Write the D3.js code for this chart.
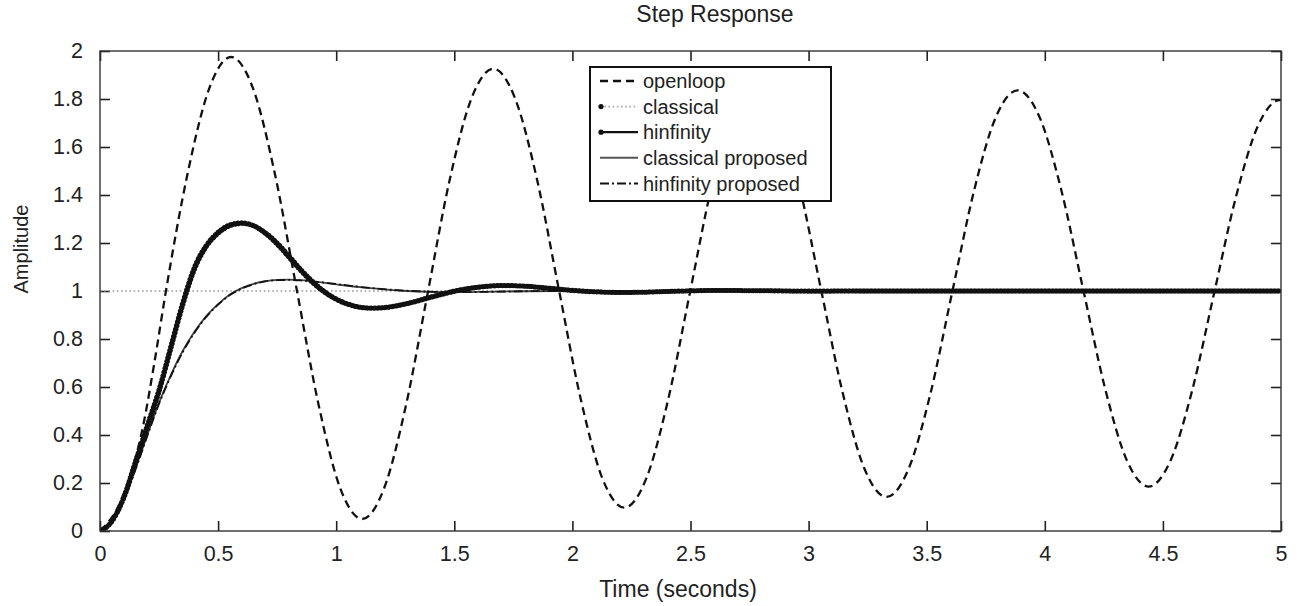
<!DOCTYPE html>
<html>
<head>
<meta charset="utf-8">
<script src="https://cdn.jsdelivr.net/npm/d3@7"></script>
<style>
  body { margin: 0; background: #fff; }
  text { font-family: "Liberation Sans", Arial, sans-serif; fill: #222; }
</style>
</head>
<body>
<div class="chart"></div>
<script>
// openloop step response
const tOpen = [0, 0.09, 0.185, 0.23, 0.2775, 0.37, 0.4625, 0.555, 0.6475, 0.74, 0.8325, 0.925, 1.0175, 1.11,
  1.2025, 1.295, 1.3875, 1.48, 1.5725, 1.665, 1.7575, 1.85, 1.9425, 2.035, 2.1275, 2.22, 2.3125, 2.405, 2.4975,
  2.59, 2.6825, 2.775, 2.8675, 2.96, 3.0525, 3.145, 3.2375, 3.33, 3.4225, 3.515, 3.6075, 3.7, 3.7925, 3.885,
  3.9775, 4.07, 4.1625, 4.255, 4.3475, 4.44, 4.5325, 4.625, 4.7175, 4.81, 4.9025, 4.995, 5];
const yOpen = [0, 0.13, 0.45, 0.70, 0.99, 1.485, 1.844, 1.975, 1.845, 1.49, 1.008, 0.528, 0.177, 0.05,
  0.177, 0.522, 0.992, 1.461, 1.802, 1.926, 1.802, 1.466, 1.007, 0.551, 0.218, 0.097, 0.218, 0.546, 0.993,
  1.438, 1.762, 1.88, 1.762, 1.442, 1.007, 0.573, 0.257, 0.142, 0.257, 0.569, 0.993, 1.416, 1.724, 1.836,
  1.725, 1.42, 1.007, 0.595, 0.294, 0.185, 0.294, 0.59, 0.994, 1.395, 1.688, 1.795, 1.795];

// classical / hinfinity controllers
const tCtrl = [0, 0.05, 0.1, 0.15, 0.2, 0.25, 0.3, 0.35, 0.4, 0.45, 0.5, 0.55, 0.6, 0.65, 0.7, 0.75, 0.8, 0.85,
  0.9, 0.95, 1.0, 1.05, 1.1, 1.15, 1.2, 1.3, 1.4, 1.5, 1.6, 1.7, 1.8, 1.9, 2.0, 2.1, 2.2, 2.3, 2.4, 2.5, 2.6,
  2.8, 3.0, 3.2, 3.4, 3.6, 3.8, 4.0, 4.5, 5.0];
const yClassical = [0, 0.04, 0.14, 0.29, 0.44, 0.59, 0.77, 0.95, 1.10, 1.19, 1.245, 1.276, 1.284, 1.272, 1.24,
  1.195, 1.14, 1.085, 1.035, 0.995, 0.965, 0.944, 0.932, 0.928, 0.93, 0.948, 0.975, 1.0, 1.016, 1.023, 1.02,
  1.011, 1.002, 0.996, 0.994, 0.995, 0.998, 1.001, 1.002, 1.001, 0.999, 1, 1, 1, 1, 1, 1, 1];
const yHinf = [0, 0.04, 0.135, 0.28, 0.43, 0.58, 0.76, 0.94, 1.09, 1.185, 1.24, 1.272, 1.281, 1.272, 1.243,
  1.2, 1.146, 1.09, 1.04, 0.998, 0.967, 0.946, 0.933, 0.929, 0.931, 0.947, 0.973, 0.998, 1.015, 1.022, 1.02,
  1.012, 1.003, 0.997, 0.994, 0.995, 0.998, 1.0, 1.002, 1.001, 1, 1, 1, 1, 1, 1, 1, 1];

// proposed controllers
const tProp = [0, 0.05, 0.1, 0.15, 0.2, 0.25, 0.3, 0.35, 0.4, 0.45, 0.5, 0.55, 0.6, 0.65, 0.7, 0.75, 0.8, 0.85,
  0.9, 1.0, 1.1, 1.2, 1.3, 1.4, 1.5, 1.6, 1.8, 2.0, 2.5, 3.0, 4.0, 5.0];
const yClassProp = [0, 0.04, 0.13, 0.26, 0.40, 0.535, 0.65, 0.75, 0.83, 0.895, 0.945, 0.985, 1.012, 1.03, 1.041,
  1.046, 1.047, 1.045, 1.04, 1.028, 1.016, 1.007, 1.0, 0.996, 0.995, 0.996, 0.999, 1, 1, 1, 1, 1];
const yHinfProp = [0, 0.04, 0.128, 0.255, 0.395, 0.53, 0.645, 0.745, 0.826, 0.892, 0.943, 0.983, 1.01, 1.028, 1.04,
  1.045, 1.046, 1.044, 1.04, 1.029, 1.017, 1.008, 1.001, 0.997, 0.995, 0.996, 0.999, 1, 1, 1, 1, 1];

const steadyState = 1;
const xTickValues = [0, 0.5, 1, 1.5, 2, 2.5, 3, 3.5, 4, 4.5, 5];
const yTickValues = [0, 0.2, 0.4, 0.6, 0.8, 1, 1.2, 1.4, 1.6, 1.8, 2];
const legendNames = ["openloop", "classical", "hinfinity", "classical proposed", "hinfinity proposed"];

var width = 1298, height = 606;
var margin = { left: 100, top: 51, right: 17, bottom: 75 };
var innerW = width - margin.left - margin.right,
    innerH = height - margin.top - margin.bottom;

const svg = d3.select(".chart").append("svg")
    .attr("width", width)
    .attr("height", height);

const x = d3.scaleLinear().domain([0, 5]).range([0, innerW]);
const y = d3.scaleLinear().domain([0, 2]).range([innerH, 0]);

const g = svg.append("g").attr("transform", `translate(${margin.left},${margin.top})`);

svg.append("defs").append("clipPath").attr("id", "plotclip")
    .append("rect").attr("width", innerW).attr("height", innerH);

const fmt = d3.format("~g");

// axes with inward ticks on all four sides
const axB = g.append("g").attr("transform", `translate(0,${innerH})`)
    .call(d3.axisBottom(x).tickValues(xTickValues).tickSize(-10).tickPadding(15).tickFormat(fmt));
const axT = g.append("g")
    .call(d3.axisTop(x).tickValues(xTickValues).tickSize(-10).tickFormat(""));
const axL = g.append("g")
    .call(d3.axisLeft(y).tickValues(yTickValues).tickSize(-10).tickPadding(17).tickFormat(fmt));
const axR = g.append("g").attr("transform", `translate(${innerW},0)`)
    .call(d3.axisRight(y).tickValues(yTickValues).tickSize(-10).tickFormat(""));

[axB, axT, axL, axR].forEach(a => {
    a.select(".domain").remove();
    a.selectAll(".tick line").attr("stroke", "#222").attr("stroke-width", 1.6);
    a.selectAll(".tick text").style("font-size", "21.5px").style("fill", "#222")
        .attr("font-family", null);
});

const plot = g.append("g").attr("clip-path", "url(#plotclip)");

const lineOf = (ts, curve) => d3.line()
    .x(i => x(ts[i]))
    .y(i => y(curve[i]))
    .curve(d3.curveMonotoneX);

const idx = arr => d3.range(arr.length);

// steady state dotted line
plot.append("line")
    .attr("x1", x(0)).attr("x2", x(5))
    .attr("y1", y(steadyState)).attr("y2", y(steadyState))
    .attr("stroke", "#999").attr("stroke-width", 1.6)
    .attr("stroke-dasharray", "1.6 2.6");

// classical proposed (thin gray) and hinfinity proposed (dash-dot)
plot.append("path")
    .attr("d", lineOf(tProp, yClassProp)(idx(tProp)))
    .attr("fill", "none").attr("stroke", "#444").attr("stroke-width", 1.8);
plot.append("path")
    .attr("d", lineOf(tProp, yHinfProp)(idx(tProp)))
    .attr("fill", "none").attr("stroke", "#111").attr("stroke-width", 1.8)
    .attr("stroke-dasharray", "9 3 2 3");

// classical & hinfinity with dense dot markers
[[yClassical, "#aaa", "1.5 2.5"], [yHinf, "#111", null]].forEach(([vals, col, dash]) => {
    const d = lineOf(tCtrl, vals)(idx(tCtrl));
    plot.append("path").attr("d", d)
        .attr("fill", "none").attr("stroke", col).attr("stroke-width", 1.8)
        .attr("stroke-dasharray", dash);
    plot.append("path").attr("d", d)
        .attr("fill", "none").attr("stroke", "#111").attr("stroke-width", 5)
        .attr("stroke-linecap", "round")
        .attr("stroke-dasharray", "0.1 3.6");
});

// openloop dashed
plot.append("path")
    .attr("d", lineOf(tOpen, yOpen)(idx(tOpen)))
    .attr("fill", "none").attr("stroke", "#111").attr("stroke-width", 2.3)
    .attr("stroke-dasharray", "8 5");

// box
g.append("rect").attr("width", innerW).attr("height", innerH)
    .attr("fill", "none").attr("stroke", "#333").attr("stroke-width", 1.4);

// titles
svg.append("text").attr("x", 715).attr("y", 22).attr("text-anchor", "middle")
    .style("font-size", "23px").text("Step Response");
svg.append("text").attr("x", 678).attr("y", 597).attr("text-anchor", "middle")
    .style("font-size", "23px").text("Time (seconds)");
svg.append("text").attr("transform", "translate(28,249) rotate(-90)").attr("text-anchor", "middle")
    .style("font-size", "20px").text("Amplitude");

// legend
const lg = svg.append("g").attr("transform", "translate(590,67)");
lg.append("rect").attr("width", 241).attr("height", 134)
    .attr("fill", "#fff").attr("stroke", "#111").attr("stroke-width", 2);

const legendStyles = [
    { stroke: "#111", width: 2.3, dash: "8 5", dot: false },
    { stroke: "#aaa", width: 1.6, dash: "1.6 2.6", dot: true },
    { stroke: "#111", width: 2.2, dash: null, dot: true },
    { stroke: "#555", width: 2, dash: null, dot: false },
    { stroke: "#111", width: 2, dash: "9 3 2 3", dot: false }
];
const rows = lg.selectAll("g.row").data(legendNames).enter().append("g")
    .attr("transform", (d, i) => `translate(0,${14 + i * 25.6})`);
rows.append("line")
    .attr("x1", 10).attr("x2", 48).attr("y1", 0).attr("y2", 0)
    .attr("stroke", (d, i) => legendStyles[i].stroke)
    .attr("stroke-width", (d, i) => legendStyles[i].width)
    .attr("stroke-dasharray", (d, i) => legendStyles[i].dash);
rows.filter((d, i) => legendStyles[i].dot).append("circle")
    .attr("cx", 11).attr("cy", 0).attr("r", 2.6).attr("fill", "#111");
rows.append("text").attr("x", 53).attr("dy", "0.36em")
    .style("font-size", "20px").text(d => d);
</script>
</body>
</html>
